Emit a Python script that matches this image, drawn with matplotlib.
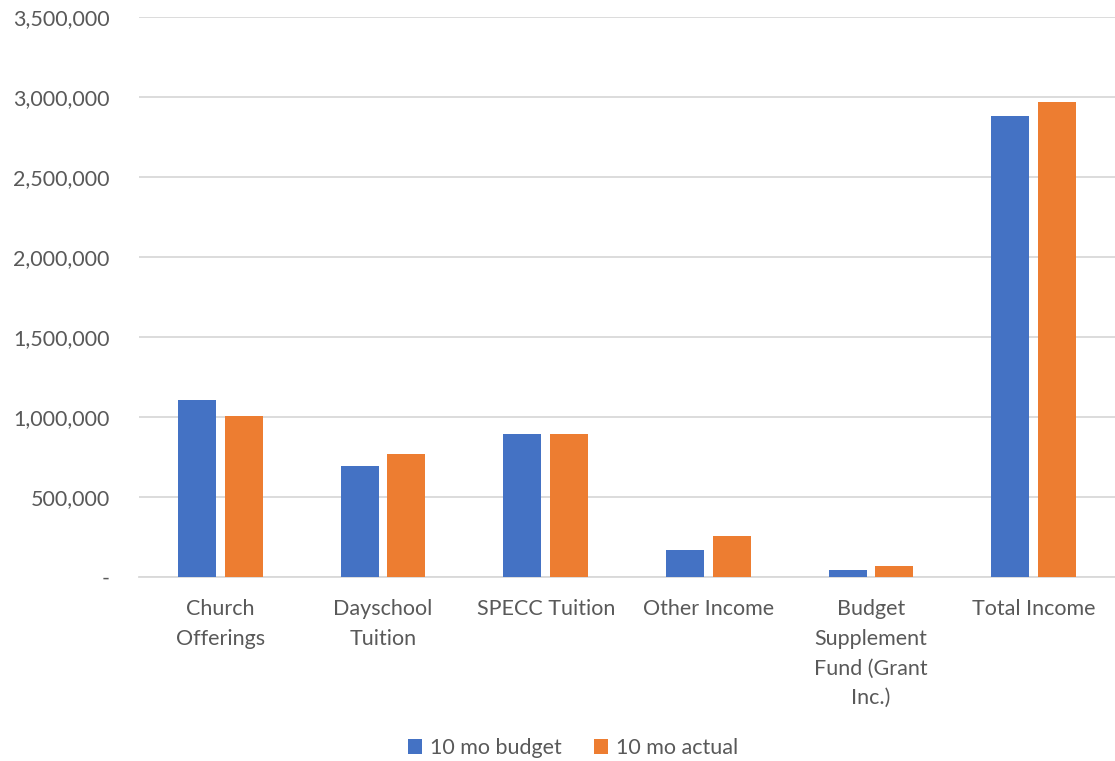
import numpy as np
import matplotlib
matplotlib.use("Agg")
import matplotlib.pyplot as plt
from matplotlib.ticker import FuncFormatter

plt.rcParams['font.family'] = ['Lato', 'DejaVu Sans']

categories = ["Church\nOfferings", "Dayschool\nTuition", "SPECC Tuition", "Other Income",
              "Budget\nSupplement\nFund (Grant\nInc.)", "Total Income"]
budget = [1106000, 694000, 894000, 168000, 44000, 2880000]
actual = [1006000, 769000, 894000, 256000, 69000, 2970000]
series_names = ["10 mo budget", "10 mo actual"]

BLUE = "#4472C4"
ORANGE = "#ED7D31"
GRID = "#D9D9D9"
TEXT = "#595959"
FS = 15.5

fig = plt.figure(figsize=(11.15, 7.61), dpi=100)
ax = fig.add_axes([0.1247, 0.2418, 0.8753, 0.736])

x = np.arange(len(categories))
w = 0.234
off = 0.143
ax.bar(x - off, budget, w, color=BLUE, label=series_names[0], zorder=3)
ax.bar(x + off, actual, w, color=ORANGE, label=series_names[1], zorder=3)

ax.set_xlim(-0.5, len(categories) - 0.5)
ax.set_ylim(0, 3500000)
ax.set_yticks(np.arange(0, 3500001, 500000))
ax.yaxis.set_major_formatter(FuncFormatter(lambda v, p: "-" if v == 0 else f"{int(v):,}"))
ax.grid(axis="y", color=GRID, linewidth=1.3, zorder=0)
ax.set_xticks(x)
ax.set_xticklabels(categories, linespacing=1.6, va="top")

for s in ["top", "right", "left"]:
    ax.spines[s].set_visible(False)
ax.spines["bottom"].set_color(GRID)
ax.spines["bottom"].set_linewidth(1.3)

ax.tick_params(axis="both", length=0, labelsize=FS, labelcolor=TEXT)
ax.tick_params(axis="y", pad=21)
ax.tick_params(axis="x", pad=16)

fig.legend(loc="center", bbox_to_anchor=(0.514, 0.0171), ncol=2, frameon=False,
           fontsize=FS, labelcolor=TEXT, handlelength=0.65, handleheight=0.65,
           handletextpad=0.37, columnspacing=1.5, borderpad=0)

fig.savefig("out.png", dpi=100)
